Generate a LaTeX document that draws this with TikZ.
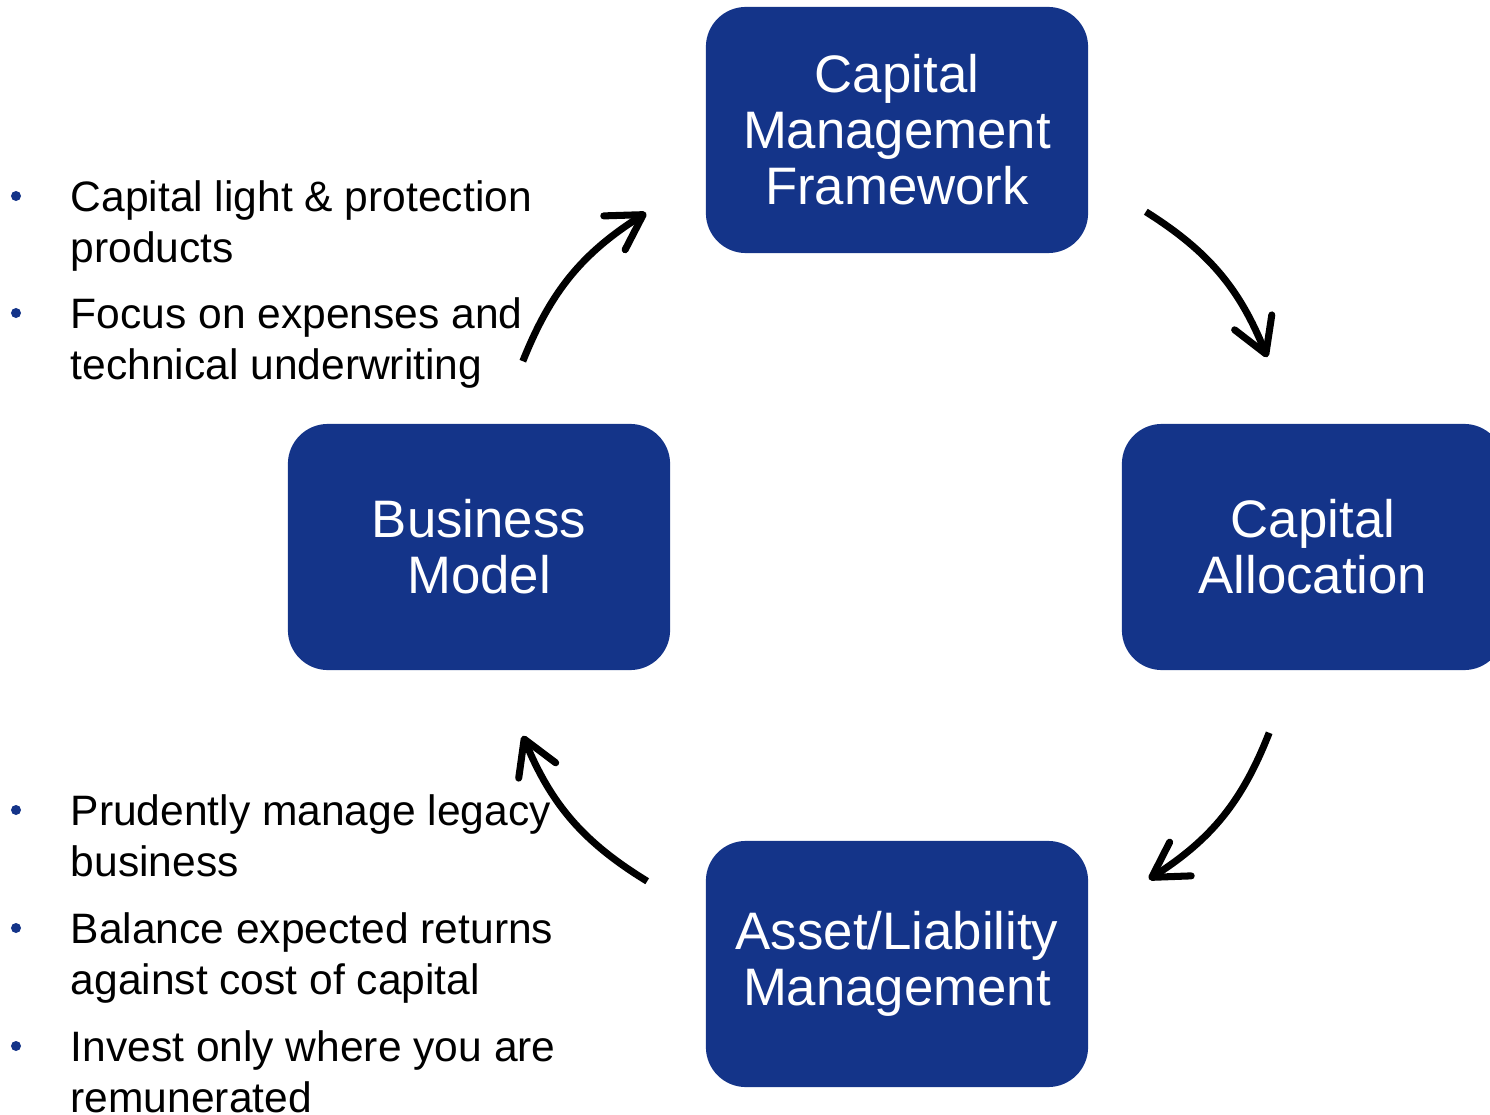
\documentclass[tikz,border=0pt]{standalone}
\usepackage{fontspec}
\setmainfont{Liberation Sans}
\usetikzlibrary{positioning, arrows.meta, calc}
\definecolor{capblue}{RGB}{20,52,137}

\begin{document}
\begin{tikzpicture}[
					x=0.01cm, y=0.01cm,
					stage/.style={fill=capblue, rounded corners=0.4cm, minimum width=3.82cm, minimum height=2.46cm,
						inner sep=0pt, align=center, text=white, font=\fontsize{15}{15.9}\selectfont},
					item/.style={anchor=north west, inner sep=0pt, align=left, font=\fontsize{12.1}{14.5}\selectfont},
					dot/.style={circle, fill=capblue, inner sep=0pt, minimum size=0.1cm},
					flow/.style={-{Straight Barb[length=0.34cm, width=0.4cm, round]}, line width=2pt, bend left=18}
					]
					\useasboundingbox (0,0) rectangle (1490,1114);
					\clip (0,0) rectangle (1490,1114);
					% the four stages of the cycle
					\node[stage] (cmf) at (897,984) {Capital\\Management\\Framework};
					\node[stage] (ca) at (1313,567) {Capital\\Allocation};
					\node[stage] (alm) at (897,150) {Asset/Liability\\Management};
					\node[stage] (bm) at (479,567) {Business\\Model};
					% arrows, clockwise
					\draw[flow] ([shift={(-148,62)}]bm.north east) to ([shift={(-59,41)}]cmf.south west);
					\draw[flow] ([shift={(57,42)}]cmf.south east) to ([shift={(146,66)}]ca.north west);
					\draw[flow] ([shift={(148,-62)}]ca.south west) to ([shift={(60,-39)}]alm.north east);
					\draw[flow] ([shift={(-58,-41)}]alm.north west) to ([shift={(-148,-65)}]bm.south east);
					% bullet lists
					\node[item] (i1) at (70,934) {Capital light \& protection\\products};
					\node[item] (i2) at (70,817) {Focus on expenses and\\technical underwriting};
					\node[item] (i3) at (70,320) {Prudently manage legacy\\business};
					\node[item] (i4) at (70,202) {Balance expected returns\\against cost of capital};
					\node[item] (i5) at (70,84) {Invest only where you are\\remunerated};
					\foreach \i in {1,...,5}
						\node[dot] (d\i) at ([shift={(-54,-16)}]i\i.north west) {};
				\end{tikzpicture}
\end{document}
